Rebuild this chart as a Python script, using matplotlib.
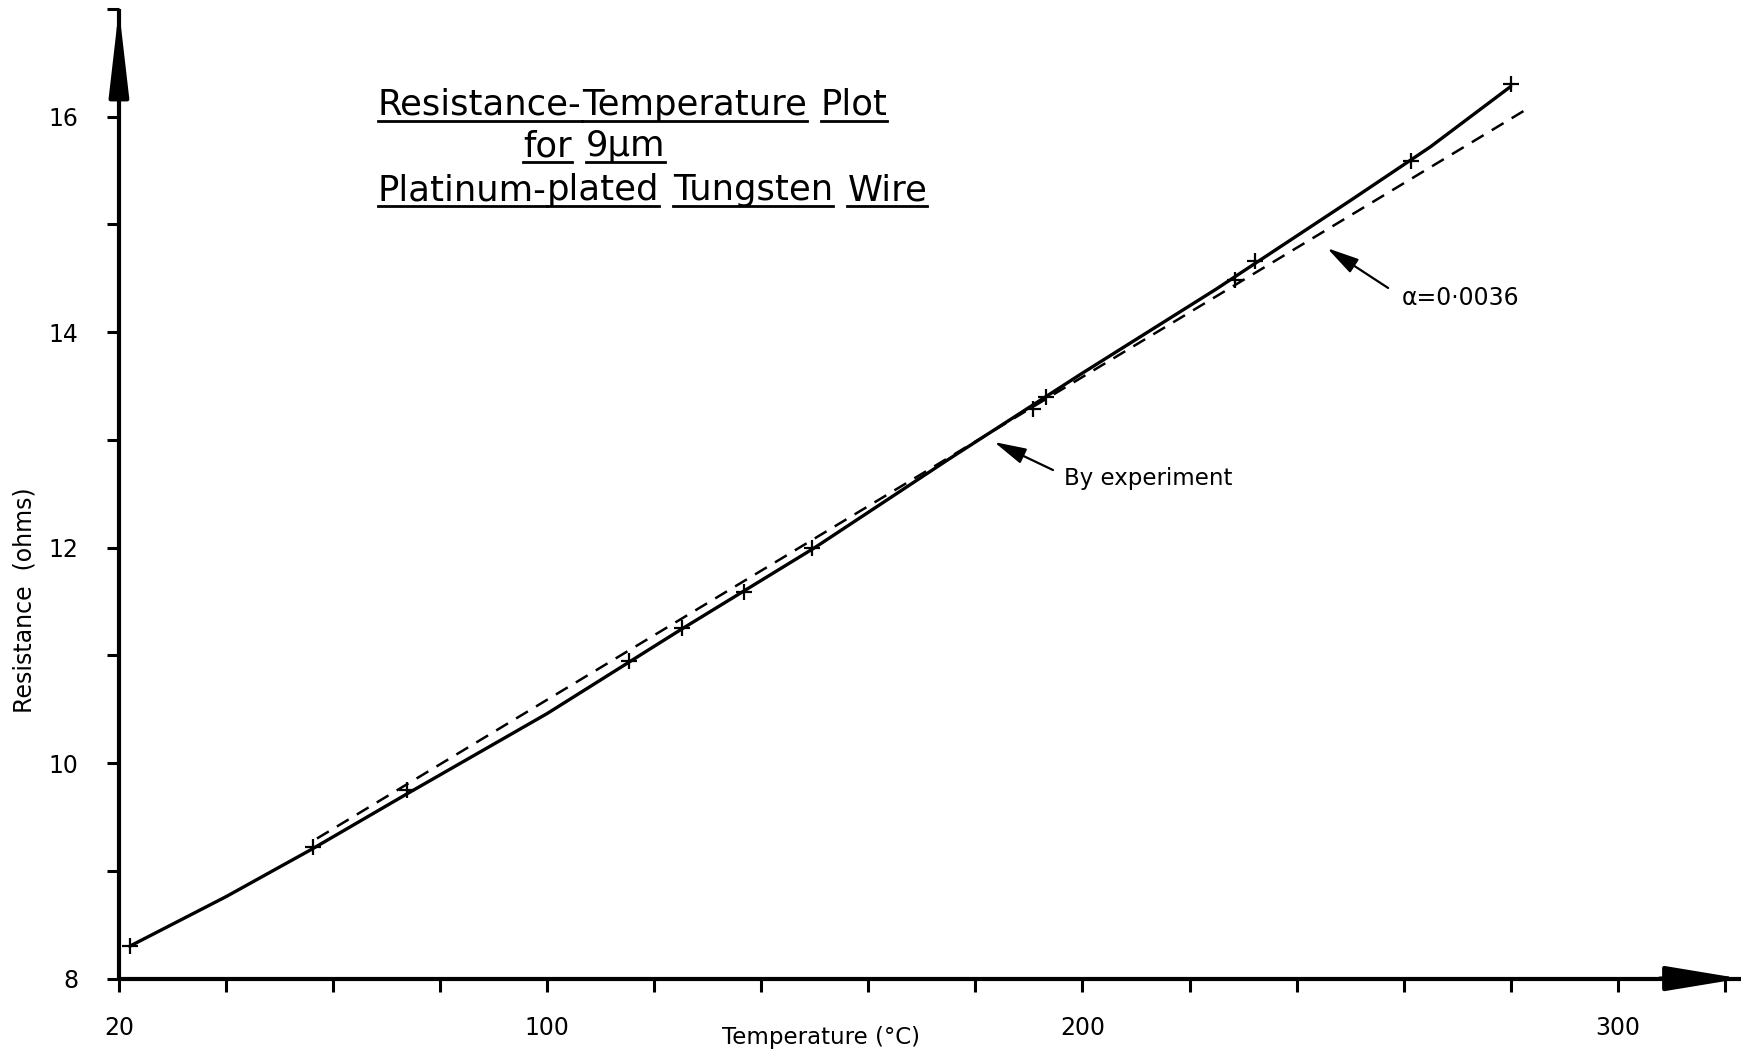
import matplotlib
matplotlib.use("Agg")
import matplotlib.pyplot as plt
from matplotlib.ticker import MultipleLocator, FixedLocator

# -----------------------------
# data
# -----------------------------
# measured points (crosses)
temp_meas = [22.1, 56.3, 73.9, 115.2, 125.2, 136.8, 149.5, 190.7, 193.2, 228.5, 232.2, 261.3, 280.0]
res_meas = [8.30, 9.22, 9.75, 10.95, 11.25, 11.59, 12.00, 13.29, 13.40, 14.48, 14.66, 15.59, 16.30]

# hand-drawn experimental curve
temp_curve = [22, 40, 56, 74, 100, 125, 150, 175, 200, 225, 250, 265, 280]
res_curve = [8.30, 8.76, 9.20, 9.72, 10.46, 11.24, 12.00, 12.82, 13.62, 14.40, 15.22, 15.72, 16.28]

# theoretical line, alpha = 0.0036
temp_alpha = [57, 283]
res_alpha = [9.30, 16.07]

x_major = [20, 100, 200, 300]
x_labels = ["20", "100", "200", "300"]
y_major = [8, 10, 12, 14, 16]
y_labels = ["8", "10", "12", "14", "16"]

title_lines = [
    ["Resistance-", "Temperature", "Plot"],
    ["for", "9\u03bcm"],
    ["Platinum-", "plated", "Tungsten", "Wire"],
]

plt.rcParams['font.family'] = ['DejaVu Sans']

fig = plt.figure(figsize=(17.44, 10.64), dpi=100)
ax = fig.add_axes([0.0682, 0.0803, 0.93, 0.9113])
ax.set_xlim(20, 323)
ax.set_ylim(8, 17)

# axes: only left and bottom, thick, with arrow heads
for side in ['top', 'right']:
    ax.spines[side].set_visible(False)
for side in ['left', 'bottom']:
    ax.spines[side].set_linewidth(3)
    ax.spines[side].set_capstyle('butt')

ax.annotate('', xy=(0, 1.0), xytext=(0, 0.93), xycoords='axes fraction',
            arrowprops=dict(arrowstyle='-|>,head_length=2.6,head_width=0.3',
                            mutation_scale=20, color='black', lw=3, shrinkA=0, shrinkB=0),
            annotation_clip=False)
ax.annotate('', xy=(1.0, 0), xytext=(0.95, 0), xycoords='axes fraction',
            arrowprops=dict(arrowstyle='-|>,head_length=2.3,head_width=0.38',
                            mutation_scale=20, color='black', lw=3, shrinkA=0, shrinkB=0),
            annotation_clip=False)

# ticks
ax.xaxis.set_major_locator(FixedLocator(x_major))
ax.set_xticklabels(x_labels)
ax.xaxis.set_minor_locator(MultipleLocator(20))
ax.yaxis.set_major_locator(FixedLocator(y_major))
ax.set_yticklabels(y_labels)
ax.yaxis.set_minor_locator(MultipleLocator(1))
ax.tick_params(which='both', direction='out', length=9, width=2.2)
ax.tick_params(axis='x', which='major', pad=18, labelsize=17)
ax.tick_params(axis='y', which='major', pad=20, labelsize=17)

# curves
ax.plot(temp_alpha, res_alpha, color='black', lw=1.8, dashes=(5.5, 3.8))
ax.plot(temp_curve, res_curve, color='black', lw=2.4, solid_capstyle='round')
ax.plot(temp_meas, res_meas, linestyle='none', marker='+', markersize=12,
        markeredgewidth=1.6, color='black', clip_on=False)

# annotations
ax.annotate('', xy=(183.5, 12.98), xytext=(194.5, 12.72),
            arrowprops=dict(arrowstyle='-|>,head_length=1.4,head_width=0.35',
                            mutation_scale=14, color='black', lw=1.6, shrinkA=0, shrinkB=0))
ax.text(196.5, 12.64, 'By experiment', fontsize=16.5, va='center', ha='left')

ax.annotate('', xy=(245.7, 14.78), xytext=(257.1, 14.41),
            arrowprops=dict(arrowstyle='-|>,head_length=1.4,head_width=0.35',
                            mutation_scale=14, color='black', lw=1.6, shrinkA=0, shrinkB=0))
ax.text(259.6, 14.32, '\u03b1=0\u00b70036', fontsize=17, va='center', ha='left')

# axis titles
fig.text(0.471, 0.014, 'Temperature (\u00b0C)', fontsize=16.5, ha='center', va='bottom')
fig.text(0.014, 0.436, 'Resistance  (ohms)', fontsize=17, ha='center', va='center',
         rotation=90)

# title: underlined word by word
renderer = fig.canvas.get_renderer()
line_pos = [(0.2167, 0.892), (0.300, 0.853), (0.2167, 0.812)]
space_w = 14
for words, (x0, y0) in zip(title_lines, line_pos):
    cx = x0 * fig.bbox.width
    for w in words:
        t = fig.text(cx / fig.bbox.width, y0, w, fontsize=25.5, ha='left', va='baseline')
        bb = t.get_window_extent(renderer)
        uy = y0 - 6 / fig.bbox.height
        fig.add_artist(plt.Line2D([bb.x0 / fig.bbox.width, bb.x1 / fig.bbox.width], [uy, uy],
                                  transform=fig.transFigure, color='black', lw=2))
        cx = bb.x1 + (0 if w.endswith('-') else space_w)

fig.savefig('out.png', dpi=100)
